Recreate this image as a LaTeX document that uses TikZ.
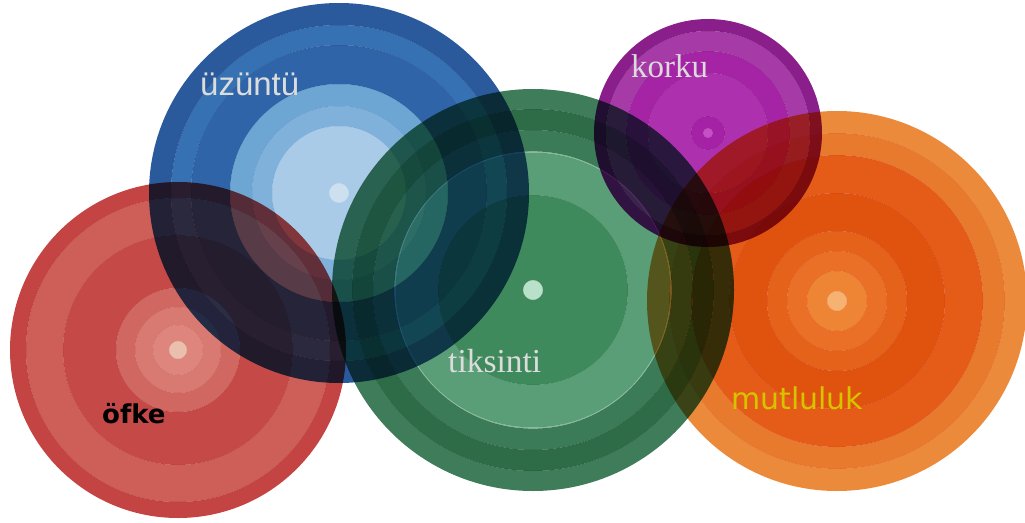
\documentclass[tikz,border=0pt]{standalone}
\usepackage{fontspec}
\setmainfont{Liberation Serif}
\newfontfamily\arialf{Liberation Sans}
\newfontfamily\dejavuf{DejaVu Sans}
\usetikzlibrary{calc}
% colours
\definecolor{rA}{HTML}{C34443}\definecolor{rB}{HTML}{CD5E58}\definecolor{rC}{HTML}{C54A47}
\definecolor{rD}{HTML}{D06761}\definecolor{rE}{HTML}{D87A72}\definecolor{rF}{HTML}{DE867D}\definecolor{rG}{HTML}{EBBFAE}
\definecolor{bA}{HTML}{2B5A9C}\definecolor{bB}{HTML}{3571B3}\definecolor{bC}{HTML}{2F64A8}
\definecolor{bD}{HTML}{6DA5D3}\definecolor{bE}{HTML}{7FB1DB}\definecolor{bF}{HTML}{A9CBE7}\definecolor{bG}{HTML}{CDE0F0}
\definecolor{gA}{HTML}{3E7C5A}\definecolor{gB}{HTML}{2E6B47}\definecolor{gC}{HTML}{3C7B57}
\definecolor{gD}{HTML}{5A9E77}\definecolor{gE}{HTML}{3F8A5C}\definecolor{gF}{HTML}{B9E0C8}\definecolor{gL}{HTML}{8EC3A2}
\definecolor{pA}{HTML}{8A1F8B}\definecolor{pB}{HTML}{A63BA7}\definecolor{pC}{HTML}{A524A5}
\definecolor{pD}{HTML}{AD30AE}\definecolor{pE}{HTML}{A521A6}\definecolor{pF}{HTML}{C64EC6}
\definecolor{oA}{HTML}{EC8A3C}\definecolor{oB}{HTML}{E87A2E}\definecolor{oC}{HTML}{E45C17}
\definecolor{oD}{HTML}{E0530F}\definecolor{oE}{HTML}{E5621A}\definecolor{oF}{HTML}{E97026}
\definecolor{oG}{HTML}{ED8535}\definecolor{oH}{HTML}{F6B272}
\definecolor{lblgray}{HTML}{DCDCDC}\definecolor{lblyellow}{HTML}{D6C400}
\newcommand\myring[4]{\fill[#4, blend mode=multiply, even odd rule] (#1) circle[radius=#2] circle[radius=#3];}
\newcommand\mydot[3]{\fill[#3, blend mode=multiply] (#1) circle[radius=#2];}
\begin{document}
\begin{tikzpicture}[x=1pt,y=-1pt,
  lbl/.style={inner sep=0pt,anchor=base west}]
\useasboundingbox (0,0) rectangle (1025,522);
\coordinate (red) at (178,350);
\coordinate (blue) at (339,193);
\coordinate (green) at (533,290);
\coordinate (purple) at (708,133);
\coordinate (orange) at (837,301);
% red
\myring{red}{168}{152}{rA}\myring{red}{152}{115}{rB}\myring{red}{115}{62}{rC}
\myring{red}{62}{43}{rD}\myring{red}{43}{25}{rE}\myring{red}{25}{9}{rF}\mydot{red}{9}{rG}
% blue
\myring{blue}{190}{168}{bA}\myring{blue}{168}{148}{bB}\myring{blue}{148}{109}{bC}
\myring{blue}{109}{87}{bD}\myring{blue}{87}{67}{bE}\myring{blue}{67}{10}{bF}\mydot{blue}{10}{bG}
% green
\myring{green}{201}{181}{gA}\myring{green}{181}{160}{gB}\myring{green}{160}{138.6}{gC}
\myring{green}{138.6}{137.4}{gL}
\myring{green}{137.4}{95}{gD}\myring{green}{95}{10}{gE}\mydot{green}{10}{gF}
% purple
\myring{purple}{114}{102}{pA}\myring{purple}{102}{82}{pB}\myring{purple}{82}{60}{pC}
\myring{purple}{60}{17}{pD}\myring{purple}{17}{5}{pE}\mydot{purple}{5}{pF}
% orange
\myring{orange}{190}{168}{oA}\myring{orange}{168}{146}{oB}\myring{orange}{146}{108}{oC}
\myring{orange}{108}{70}{oD}\myring{orange}{70}{50}{oE}\myring{orange}{50}{30}{oF}
\myring{orange}{30}{10}{oG}\mydot{orange}{10}{oH}
% labels
\node[lbl,text=lblgray,font=\arialf\fontsize{33}{33}\selectfont] (t1) at (200,95) {üzüntü};
\node[lbl,text=lblgray,font=\fontsize{33.5}{33.5}\selectfont] (t2) at (448,372) {tiksinti};
\node[lbl,text=lblgray,font=\fontsize{33}{33}\selectfont] (t3) at (631,77) {korku};
\node[lbl,text=lblyellow,font=\dejavuf\fontsize{30}{30}\selectfont] (t4) at (731,409) {mutluluk};
\node[lbl,text=black,font=\dejavuf\bfseries\fontsize{26}{26}\selectfont] (t5) at (102,423) {öfke};
\end{tikzpicture}
\end{document}
